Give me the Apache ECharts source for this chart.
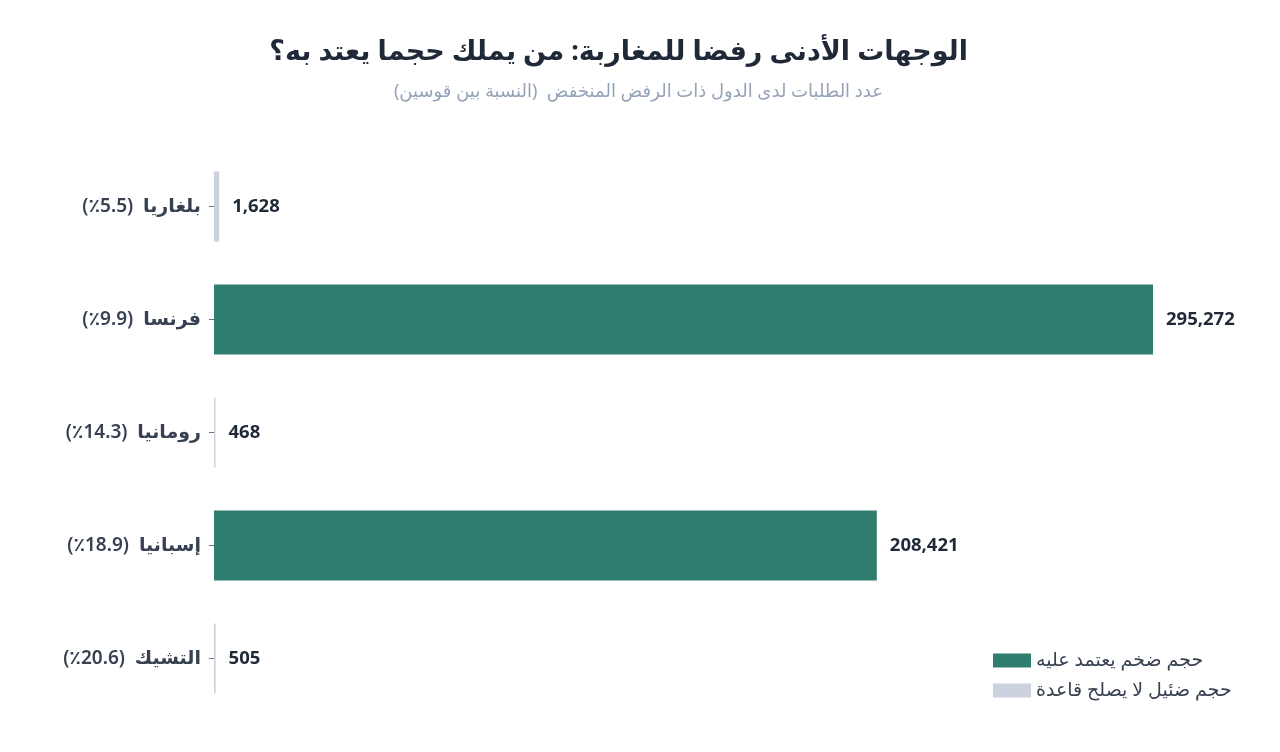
<!DOCTYPE html>
<html>
<head>
<meta charset="utf-8">
<script src="https://cdn.jsdelivr.net/npm/echarts@6/dist/echarts.min.js"></script>
<style>
	html, body { margin: 0; padding: 0; background: #fff; }
	#chart { width: 1280px; height: 752px; }
</style>
</head>
<body>
<div id="chart" dir="rtl"></div>
<script>
var countries = ['بلغاريا', 'فرنسا', 'رومانيا', 'إسبانيا', 'التشيك'];
var rates = ['5.5', '9.9', '14.3', '18.9', '20.6']; // نسبة الرفض
var requests = [1628, 295272, 468, 208421, 505]; // عدد الطلبات
var isLarge = [false, true, false, true, false];

var seriesNames = ['حجم ضخم يعتمد عليه', 'حجم ضئيل لا يصلح قاعدة'];
var colors = ['#2e7d6e', '#cbd2de'];

var largeData = [];
var smallData = [];
for(var i = 0; i < requests.length; i++) {
	largeData.push(isLarge[i] ? requests[i] : null);
	smallData.push(isLarge[i] ? null : requests[i]);
}

var font = "'Noto Sans', 'DejaVu Sans', sans-serif";
var myChart = echarts.init(document.getElementById('chart'));

var valueLabel = {
	show: true,
	position: 'right',
	distance: 13,
	fontFamily: font,
	fontSize: 18.5,
	fontWeight: 'bold',
	color: '#1f2937',
	formatter: function(p) {
		return p.value.toLocaleString('en-US');
	}
};

var option = {
	animation: false,
	textStyle: { fontFamily: font },
	title: [{
		text: 'الوجهات الأدنى رفضا للمغاربة: من يملك حجما يعتد به؟',
		right: 307,
		top: 34,
		textStyle: {
			fontFamily: font,
			fontSize: 27,
			fontWeight: 'bold',
			color: '#1f2937'
		}
	}, {
		text: 'عدد الطلبات لدى الدول ذات الرفض المنخفض  (النسبة بين قوسين)',
		right: 392,
		top: 78,
		textStyle: {
			fontFamily: font,
			fontSize: 18,
			fontWeight: 'normal',
			color: '#94a3b8'
		}
	}],
	legend: {
		orient: 'vertical',
		left: 988,
		top: 646,
		itemWidth: 38,
		itemHeight: 14,
		itemGap: 11,
		icon: 'rect',
		textStyle: { fontFamily: font, fontSize: 19, color: '#374151' },
		data: seriesNames
	},
	grid: {
		left: 214,
		right: 127,
		top: 150,
		bottom: 37
	},
	xAxis: {
		type: 'value',
		show: false,
		min: 0,
		max: function(v) { return v.max; }
	},
	yAxis: {
		type: 'category',
		inverse: true,
		data: countries,
		axisLine: { show: false },
		axisTick: {
			show: true,
			alignWithLabel: true,
			length: 5,
			lineStyle: { color: '#6b7280' }
		},
		axisLabel: {
			margin: 13,
			fontFamily: font,
			fontSize: 19,
			fontWeight: 600,
			color: '#374151',
			formatter: function(v, idx) {
				return v + '  (' + rates[idx] + '٪)';
			}
		}
	},
	series: [{
		name: seriesNames[0],
		type: 'bar',
		data: largeData,
		barCategoryGap: '38%',
		barGap: '-100%',
		itemStyle: { color: colors[0] },
		label: valueLabel
	}, {
		name: seriesNames[1],
		type: 'bar',
		data: smallData,
		barCategoryGap: '38%',
		barGap: '-100%',
		itemStyle: { color: colors[1] },
		label: valueLabel
	}]
};
myChart.setOption(option);
</script>
</body>
</html>
